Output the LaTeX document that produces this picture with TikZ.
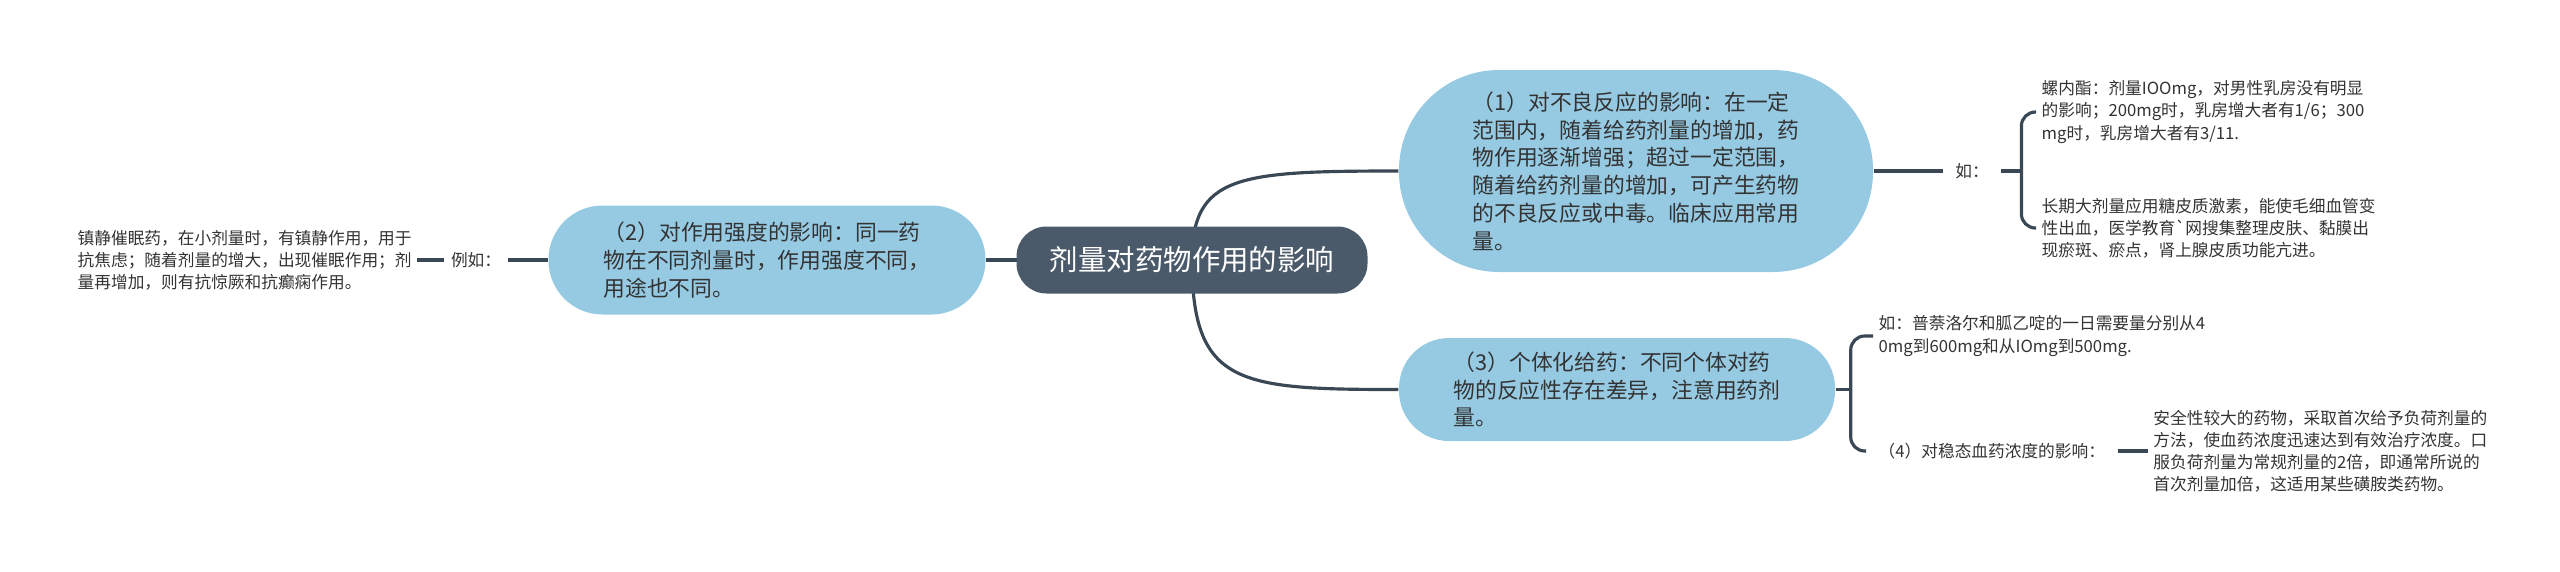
\documentclass[tikz,border=0pt]{standalone}
\usepackage{fontspec}
\setmainfont{Noto Sans CJK SC}
\usetikzlibrary{positioning,backgrounds,calc}
\definecolor{rootfill}{RGB}{75,90,106}
\definecolor{subfill}{RGB}{150,202,227}
\definecolor{linecol}{RGB}{58,72,86}
\definecolor{txtcol}{RGB}{51,51,51}
\tikzset{
  rootnode/.style={rectangle,rounded corners=0.3cm,fill=rootfill,text=white,minimum width=3.51cm,minimum height=0.67cm,font=\fontsize{8.1}{10}\selectfont},
  subnode/.style={rectangle,fill=subfill,text=txtcol,align=left,font=\fontsize{6.2}{7.9}\selectfont},
  leafnode/.style={align=left,text=txtcol,inner sep=0.05cm,font=\fontsize{4.75}{6.3}\selectfont},
  conn/.style={draw=linecol,line width=0.9pt},
  brace/.style={conn,rounded corners=0.14cm}
}

\begin{document}
\begin{tikzpicture}
  \useasboundingbox (0,0) rectangle (25.6,-5.71);
  \node[rootnode] (root) at (11.92,-2.6) {剂量对药物作用的影响};
  \node[subnode,minimum width=4.74cm,minimum height=2.02cm,rounded corners=1cm] (eff1) at (16.36,-1.71)
    {（1）对不良反应的影响：在一定\\范围内，随着给药剂量的增加，药\\物作用逐渐增强；超过一定范围，\\随着给药剂量的增加，可产生药物\\的不良反应或中毒。临床应用常用\\量。};
  \node[subnode,minimum width=4.37cm,minimum height=1.09cm,rounded corners=0.54cm] (eff2) at (7.67,-2.6)
    {（2）对作用强度的影响：同一药\\物在不同剂量时，作用强度不同，\\用途也不同。};
  \node[subnode,minimum width=4.36cm,minimum height=1.03cm,rounded corners=0.5cm] (eff3) at (16.17,-3.895)
    {（3）个体化给药：不同个体对药\\物的反应性存在差异，注意用药剂\\量。};
  % left branch
  \node[leafnode,inner xsep=0.06cm,left=0.40cm of eff2] (eg2) {例如：};
  \node[leafnode,left=0.27cm of eg2] (eg2a)
    {镇静催眠药，在小剂量时，有镇静作用，用于\\抗焦虑；随着剂量的增大，出现催眠作用；剂\\量再增加，则有抗惊厥和抗癫痫作用。};
  % right branches
  \node[leafnode,inner xsep=0.12cm] (eg1) at (19.72,-1.71) {如：};
  \node[leafnode,anchor=west] (eg1a) at (20.36,-1.12)
    {螺内酯：剂量IOOmg，对男性乳房没有明显\\的影响；200mg时，乳房增大者有1/6；300\\mg时，乳房增大者有3/11.};
  \node[leafnode,anchor=west] (eg1b) at (20.36,-2.28)
    {长期大剂量应用糖皮质激素，能使毛细血管变\\性出血，医学教育\textasciigrave 网搜集整理皮肤、黏膜出\\现瘀斑、瘀点，肾上腺皮质功能亢进。};
  \node[leafnode,anchor=west] (eg3a) at (18.73,-3.36)
    {如：普萘洛尔和胍乙啶的一日需要量分别从4\\0mg到600mg和从IOmg到500mg.};
  \node[leafnode,anchor=west,inner xsep=0.12cm] (eg3b) at (18.66,-4.51) {（4）对稳态血药浓度的影响：};
  \node[leafnode,right=0.3cm of eg3b] (eg3c)
    {安全性较大的药物，采取首次给予负荷剂量的\\方法，使血药浓度迅速达到有效治疗浓度。口\\服负荷剂量为常规剂量的2倍，即通常所说的\\首次剂量加倍，这适用某些磺胺类药物。};
  \begin{scope}[on background layer]
    \draw[conn] (root.center) .. controls +(0,0.85) and +(-1.6,0) .. (eff1.west);
    \draw[conn] (root.center) .. controls +(0,-1.25) and +(-1.6,0) .. (eff3.west);
    \draw[conn] (root.center) -- (eff2.east);
  \end{scope}
  \foreach \a/\b in {eff2/eg2,eg2/eg2a,eff1/eg1,eg3b/eg3c} \draw[conn] (\a)--(\b);
  \draw[conn] (eg1.east) -- ++(0.2,0);
  \draw[brace] (eg1a.west) -| ($(eg1.east)+(0.2,0)$) |- (eg1b.west);
  \draw[brace] (eg3a.west) -| ($(eff3.east)+(0.15,0)$) |- (eg3b.west);
  \draw[conn] (eff3.east) -- ++(0.15,0);
\end{tikzpicture}
\end{document}
